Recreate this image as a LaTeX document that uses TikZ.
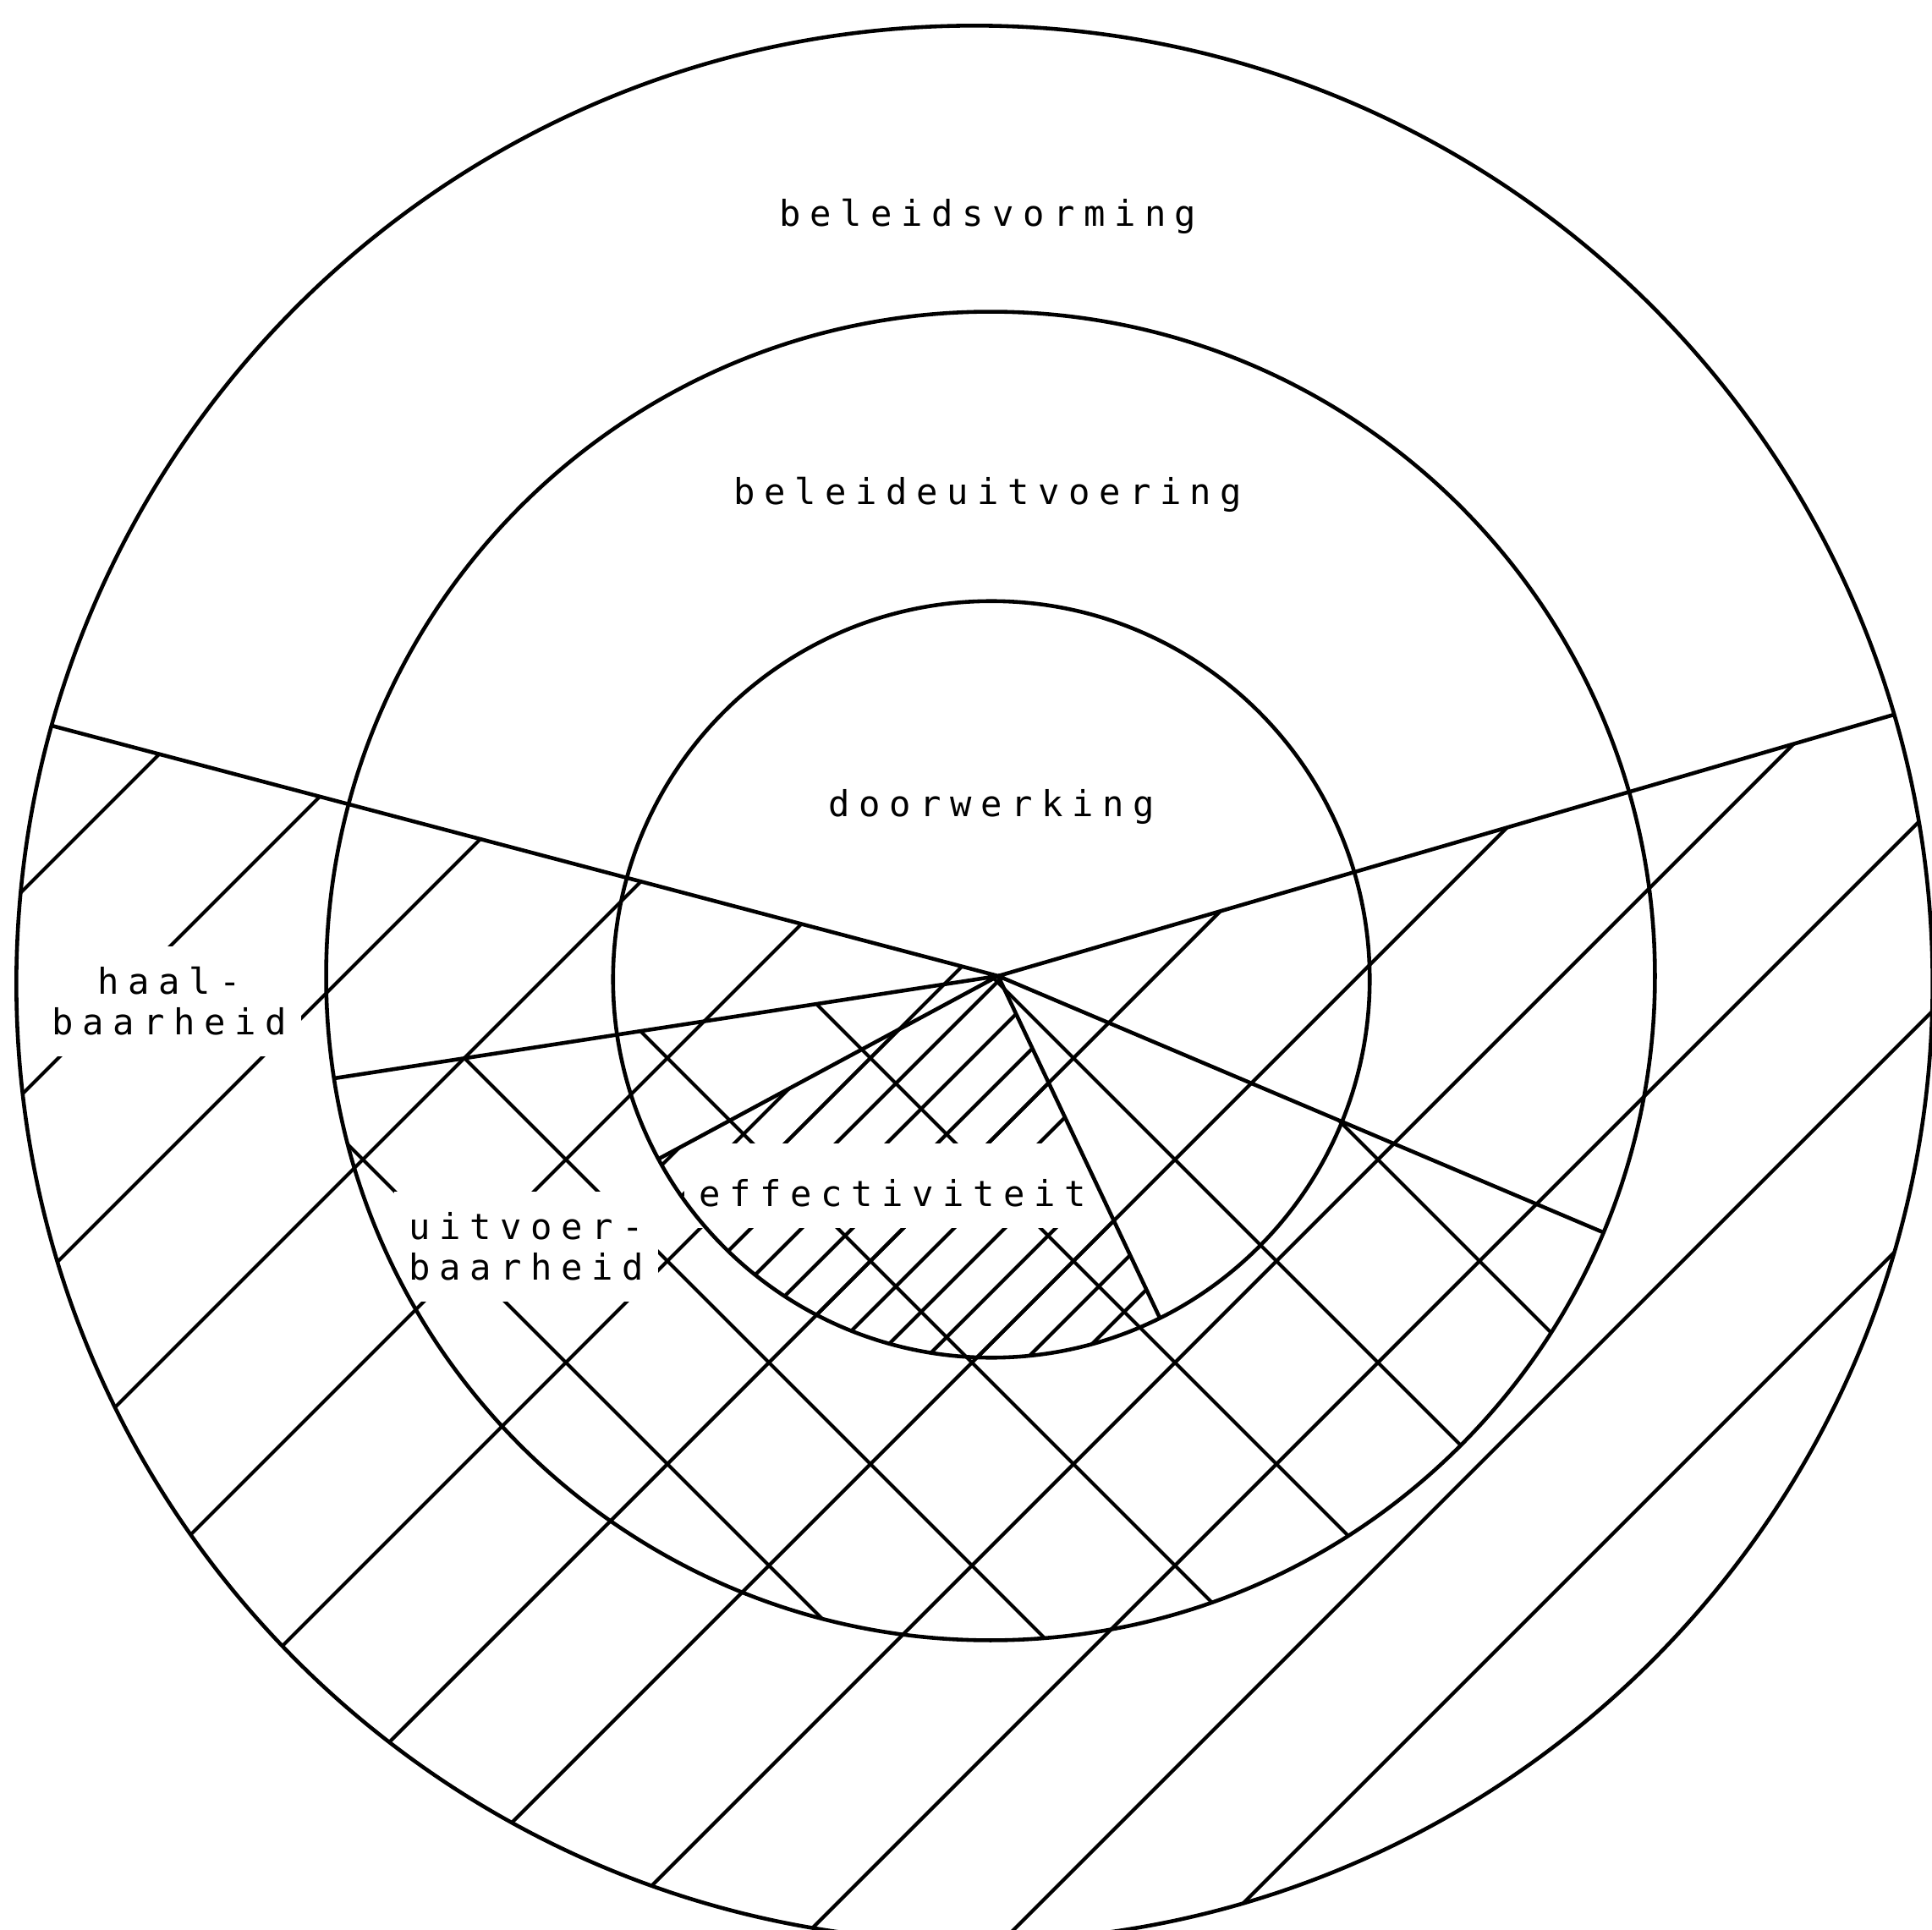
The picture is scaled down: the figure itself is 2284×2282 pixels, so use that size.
\documentclass[tikz,border=0pt]{standalone}
\usepackage{fontspec}
\newfontfamily\plotter[LetterSpace=25]{DejaVu Sans Mono}
\usetikzlibrary{calc}
\tikzset{
  % lijnen
  cirkel/.style={line width=1.3pt},
  arcering/.style={line width=1.2pt},
  % teksten
  tekst/.style={font={\plotter\fontsize{12}{13.7}\selectfont}, align=center, inner sep=0pt},
  gat/.style={tekst, fill=white, inner xsep=5pt, inner ysep=7pt}  % witte plek in de arcering
}

\begin{document}
\begin{tikzpicture}[x=0.01cm, y=-0.01cm]
  \useasboundingbox (0,0) rectangle (2284,2282);

  % middelpunten en eindpunten
  \coordinate (mb)  at (1152,1163);
  \coordinate (mm)  at (1171,1154);
  \coordinate (mi)  at (1172,1158);
  \coordinate (top) at (1180,1154);
  \coordinate (hl)  at (61,858);
  \coordinate (hr)  at (2239,845);
  \coordinate (ul)  at (395,1275);
  \coordinate (ur)  at (1895,1457);
  \coordinate (el)  at (779,1370);
  \coordinate (er)  at (1371,1558);

  % --- haalbaarheid ---
  \begin{scope}
    \clip (mb) circle [radius=11.32cm];
    \clip (hl) -- (top) -- (hr) -- (2400,845) -- (2400,2400) -- (-100,2400) -- (-100,858) -- cycle;
    \foreach \p in {120,360,...,4680}
      \draw[arcering] (\p,0) -- ++(-2400,2400);
  \end{scope}

  % --- uitvoerbaarheid ---
  \begin{scope}
    \clip (mm) circle [radius=7.85cm];
    \clip (ul) -- (top) -- (ur) -- (2400,1457) -- (2400,2400) -- (-100,2400) -- (-100,1275) -- cycle;
    \foreach \p in {-2142,-1902,...,2178}
      \draw[arcering] (\p,0) -- ++(2400,2400);
  \end{scope}

  % --- effectiviteit ---
  \begin{scope}
    \clip (mi) circle [radius=4.47cm];
    \clip (top) -- ($(top)!2!(el)$) -- ($(top)!2!(er)$) -- cycle;
    \foreach \p in {2040,2100,...,3000}
      \draw[arcering] (\p,0) -- ++(-2400,2400);
  \end{scope}

  \node[gat] (haal) at (200,1184) {haal-\\baarheid};
  \node[gat] (uitv) at (622,1474) {uitvoer-\\baarheid};
  \node[gat, text height=14pt] (eff) at (1055,1402) {effectiviteit};

  \node[tekst] (vorming)    at (1168,256) {beleidsvorming};
  \node[tekst] (uitvoering) at (1168,585) {beleideuitvoering};
  \node[tekst] (door)       at (1172,954) {doorwerking};

  \draw[cirkel] (mb) circle [radius=11.32cm]
                (mm) circle [radius=7.85cm]
                (mi) circle [radius=4.47cm];
  \draw[cirkel] (hl) -- (top) -- (hr)
                (ul) -- (top) -- (ur)
                (el) -- (top) -- (er);
\end{tikzpicture}
\end{document}
